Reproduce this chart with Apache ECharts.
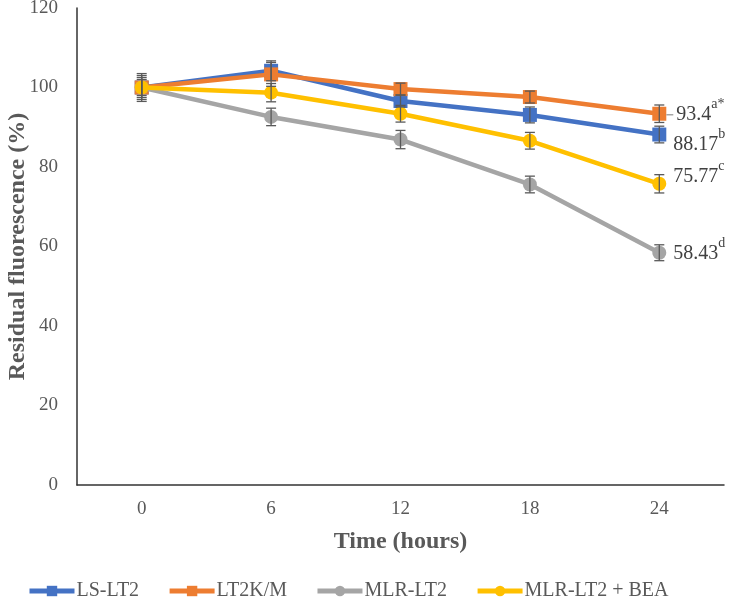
<!DOCTYPE html>
<html>
<head>
<meta charset="utf-8">
<script src="https://cdn.jsdelivr.net/npm/echarts@6/dist/echarts.min.js"></script>
<style>html,body{margin:0;padding:0;background:#fff}#c{width:729px;height:597px}</style>
</head>
<body>
<div id="c"></div>
<script>
const categories = ['0', '6', '12', '18', '24'];
const seriesNames = ['LS-LT2', 'LT2K/M', 'MLR-LT2', 'MLR-LT2 + BEA'];
const lsLT2 = [100, 104.2, 96.6, 93.1, 88.17];
const lt2KM = [100, 103.3, 99.6, 97.6, 93.4];
const mlrLT2 = [100, 92.6, 86.9, 75.6, 58.43];
const mlrBEA = [100, 98.7, 93.4, 86.6, 75.77];
const lsLT2Err = [2.5, 2.5, 1.5, 2.0, 2.1];
const lt2KMErr = [3.0, 3.0, 1.5, 1.5, 2.2];
const mlrLT2Err = [3.5, 2.2, 2.3, 2.1, 2.0];
const mlrBEAErr = [2.0, 2.3, 2.1, 2.1, 2.3];
const sigLetters = ['b', 'a*', 'd', 'c'];
const yTicks = [0, 20, 40, 60, 80, 100, 120];

const FONT = "'Liberation Serif', 'Times New Roman', serif";
const colors = ['#4472C4', '#ED7D31', '#A5A5A5', '#FFC000'];
const symbols = ['rect', 'rect', 'circle', 'circle'];
const values = [lsLT2, lt2KM, mlrLT2, mlrBEA];
const errs = [lsLT2Err, lt2KMErr, mlrLT2Err, mlrBEAErr];
const labelOffsets = [[0, 10], [0, 1], [0, 1], [0, -7]];
const hasLeader = [false, true, false, false];

const chart = echarts.init(document.getElementById('c'), null, {renderer: 'canvas'});

const lineSeries = values.map((vals, si) => ({
  name: seriesNames[si],
  type: 'line',
  symbol: symbols[si],
  symbolSize: 14,
  showAllSymbol: true,
  z: 2 + si,
  itemStyle: {color: colors[si]},
  lineStyle: {color: colors[si], width: 4.5},
  emphasis: {disabled: true},
  data: vals.map((v, i) => {
    if (i !== vals.length - 1) return v;
    return {
      value: v,
      label: {
        show: true,
        position: 'right',
        distance: hasLeader[si] ? 0 : 7,
        offset: labelOffsets[si],
        formatter: (hasLeader[si] ? '{l|}' : '') + '{v|' + v + '}{s|' + sigLetters[si] + '}',
        rich: {
          l: {width: 7, height: 1.5, backgroundColor: '#A5A5A5', padding: 0},
          v: {fontFamily: FONT, fontSize: 20, color: '#404040', padding: [0, 0, 0, hasLeader[si] ? 3 : 0]},
          s: {fontFamily: FONT, fontSize: 14, color: '#404040', padding: [0, 0, 20, 0]}
        }
      }
    };
  })
}));

const errData = [];
values.forEach((vals, si) => {
  vals.forEach((v, i) => {
    errData.push([i, v - errs[si][i], v + errs[si][i]]);
  });
});

const errSeries = {
  type: 'custom',
  name: 'err',
  z: 10,
  silent: true,
  data: errData,
  renderItem: function (params, api) {
    const x = api.value(0);
    const lo = api.coord([x, api.value(1)]);
    const hi = api.coord([x, api.value(2)]);
    const hw = 5;
    const style = {stroke: '#595959', lineWidth: 1.3};
    return {
      type: 'group',
      children: [
        {type: 'line', shape: {x1: lo[0], y1: lo[1], x2: hi[0], y2: hi[1]}, style: style},
        {type: 'line', shape: {x1: lo[0] - hw, y1: lo[1], x2: lo[0] + hw, y2: lo[1]}, style: style},
        {type: 'line', shape: {x1: hi[0] - hw, y1: hi[1], x2: hi[0] + hw, y2: hi[1]}, style: style}
      ]
    };
  }
};

chart.setOption({
  animation: false,
  backgroundColor: '#ffffff',
  grid: {left: 77, right: 5, top: 8, bottom: 112, containLabel: false, outerBoundsMode: 'none'},
  legend: {
    data: seriesNames,
    left: 22,
    top: 576,
    itemWidth: 45,
    itemHeight: 13,
    itemGap: 28,
    lineStyle: {width: 5},
    textStyle: {fontFamily: FONT, fontSize: 20, color: '#595959', padding: [0, 0, 0, -3]}
  },
  xAxis: {
    type: 'category',
    data: categories,
    boundaryGap: true,
    name: 'Time (hours)',
    nameLocation: 'middle',
    nameGap: 45,
    nameMoveOverlap: false,
    nameTextStyle: {fontFamily: FONT, fontSize: 24, fontWeight: 'bold', color: '#595959', verticalAlign: 'top'},
    axisLine: {show: true, lineStyle: {color: '#333333', width: 1.5}},
    axisTick: {show: false},
    axisLabel: {fontFamily: FONT, fontSize: 19, color: '#595959', margin: 15},
    splitLine: {show: false}
  },
  yAxis: {
    type: 'value',
    min: yTicks[0],
    max: yTicks[yTicks.length - 1],
    interval: 20,
    name: 'Residual fluorescence (%)',
    nameLocation: 'middle',
    nameGap: 47,
    nameMoveOverlap: false,
    nameTextStyle: {fontFamily: FONT, fontSize: 24, fontWeight: 'bold', color: '#595959'},
    axisLine: {show: true, lineStyle: {color: '#333333', width: 1.5}},
    axisTick: {show: false},
    axisLabel: {fontFamily: FONT, fontSize: 19, color: '#595959', margin: 19},
    splitLine: {show: false}
  },
  series: lineSeries.concat([errSeries])
});
</script>
</body>
</html>
